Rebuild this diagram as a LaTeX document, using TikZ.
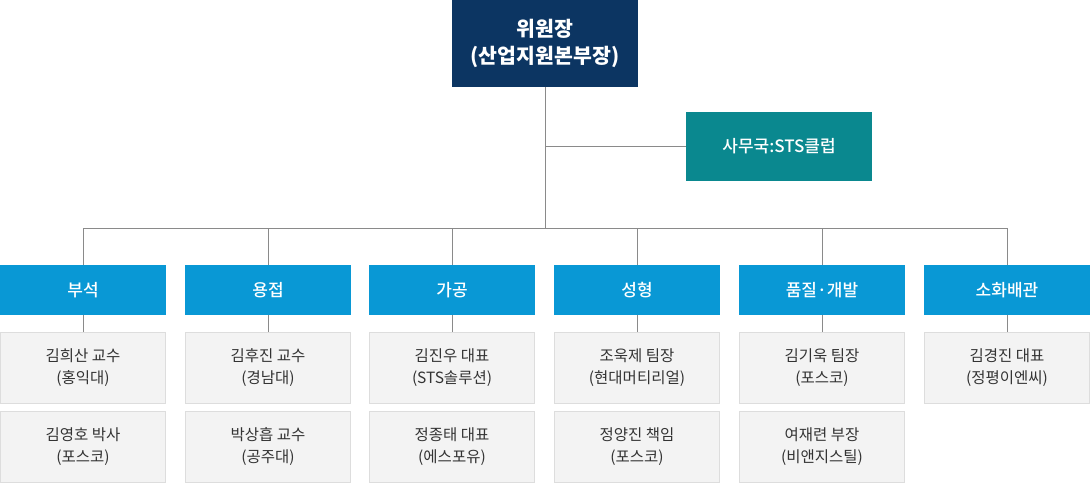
\documentclass[tikz,border=0pt]{standalone}
\usepackage{fontspec}
\setmainfont{Noto Sans CJK KR}
\newfontfamily\medfont{Noto Sans CJK KR Medium}
\definecolor{navy}{HTML}{0C3562}
\definecolor{teal2}{HTML}{0A888F}
\definecolor{catblue}{HTML}{0998D5}
\definecolor{memfill}{HTML}{F3F3F3}
\definecolor{memline}{HTML}{DDDDDD}
\definecolor{conn}{HTML}{8A8A8A}
\definecolor{memtext}{HTML}{333333}
\begin{document}
\begin{tikzpicture}[x=1pt,y=-1pt,
  topbox/.style={fill=navy,text=white,minimum width=186pt,minimum height=87pt,inner sep=0pt,align=center,font=\fontsize{20.5}{27}\selectfont\bfseries},
  officebox/.style={fill=teal2,text=white,minimum width=186pt,minimum height=69pt,inner sep=0pt,align=center,font=\medfont\fontsize{17}{20}\selectfont},
  catbox/.style={fill=catblue,text=white,minimum width=166pt,minimum height=50pt,inner sep=0pt,align=center,font=\medfont\fontsize{17}{20}\selectfont},
  membox/.style={fill=memfill,draw=memline,line width=1pt,text=memtext,minimum width=165pt,minimum height=71pt,inner sep=0pt,align=center,font=\fontsize{15.5}{22}\selectfont},
  link/.style={draw=conn,line width=1pt}]
\useasboundingbox (0,0) rectangle (1090,484);
\node[topbox] (top) at (545,43.5) {위원장\\(산업지원본부장)};
\node[officebox] (office) at (779,146.5) {사무국:STS클럽};
\coordinate (bus) at (545,228);
\coordinate (jo) at (top.south |- office.west);
\node[catbox] (c1) at (83,290) {부석};
\node[catbox] (c2) at (268,290) {용접};
\node[catbox] (c3) at (452,290) {가공};
\node[catbox] (c4) at (637,290) {성형};
\node[catbox] (c5) at (822,290) {품질·개발};
\node[catbox] (c6) at (1007,290) {소화배관};
\node[membox] (m1a) at (83,368) {김희산 교수\\(홍익대)};
\node[membox] (m1b) at (83,447) {김영호 박사\\(포스코)};
\node[membox] (m2a) at (268,368) {김후진 교수\\(경남대)};
\node[membox] (m2b) at (268,447) {박상흡 교수\\(공주대)};
\node[membox] (m3a) at (452,368) {김진우 대표\\(STS솔루션)};
\node[membox] (m3b) at (452,447) {정종태 대표\\(에스포유)};
\node[membox] (m4a) at (637,368) {조욱제 팀장\\(현대머티리얼)};
\node[membox] (m4b) at (637,447) {정양진 책임\\(포스코)};
\node[membox] (m5a) at (822,368) {김기욱 팀장\\(포스코)};
\node[membox] (m5b) at (822,447) {여재련 부장\\(비앤지스틸)};
\node[membox] (m6a) at (1007,368) {김경진 대표\\(정평이엔씨)};
\draw[link] (top.south) -- (bus);
\draw[link] (jo) -- (office.west);
\draw[link] (c1.north |- bus) -- (c6.north |- bus);
\foreach \c in {c1,c2,c3,c4,c5,c6}{
  \draw[link] (\c.north) -- (\c.north |- bus);
}
\draw[link] (c1.south) -- (m1a.north);
\draw[link] (c2.south) -- (m2a.north);
\draw[link] (c3.south) -- (m3a.north);
\draw[link] (c4.south) -- (m4a.north);
\draw[link] (c5.south) -- (m5a.north);
\draw[link] (c6.south) -- (m6a.north);
\end{tikzpicture}
\end{document}
